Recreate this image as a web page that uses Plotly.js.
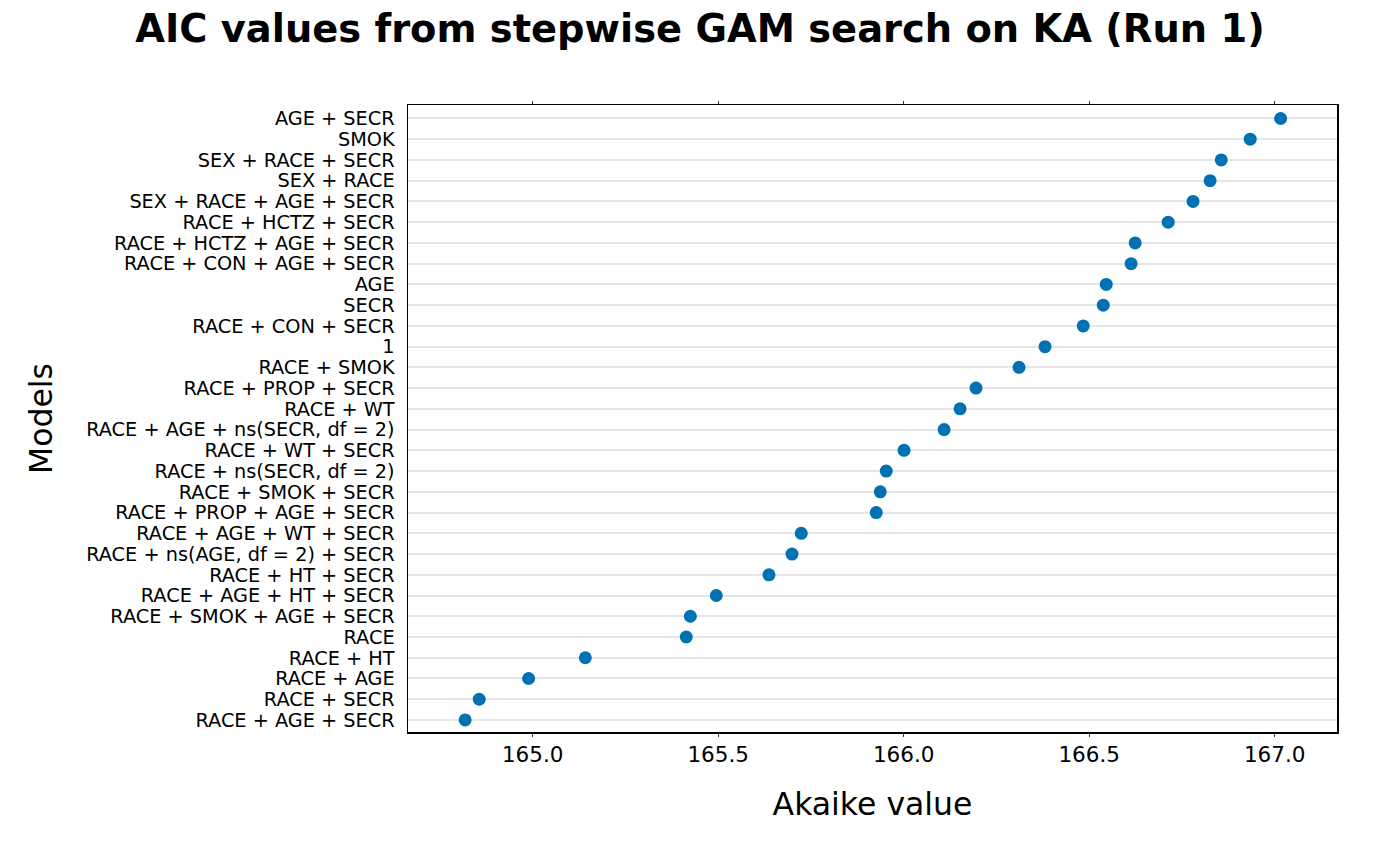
<!DOCTYPE html>
<html>
<head>
<meta charset="utf-8">
<script src="https://cdn.plot.ly/plotly-3.0.1.min.js"></script>
<style>html,body{margin:0;padding:0;background:#fff;}#chart{width:1400px;height:866px;}</style>
</head>
<body>
<div id="chart"></div>
<script>
// Models ordered bottom (lowest AIC) to top
const models = [
  "RACE + AGE + SECR",
  "RACE + SECR",
  "RACE + AGE",
  "RACE + HT",
  "RACE",
  "RACE + SMOK + AGE + SECR",
  "RACE + AGE + HT + SECR",
  "RACE + HT + SECR",
  "RACE + ns(AGE, df = 2) + SECR",
  "RACE + AGE + WT + SECR",
  "RACE + PROP + AGE + SECR",
  "RACE + SMOK + SECR",
  "RACE + ns(SECR, df = 2)",
  "RACE + WT + SECR",
  "RACE + AGE + ns(SECR, df = 2)",
  "RACE + WT",
  "RACE + PROP + SECR",
  "RACE + SMOK",
  "1",
  "RACE + CON + SECR",
  "SECR",
  "AGE",
  "RACE + CON + AGE + SECR",
  "RACE + HCTZ + AGE + SECR",
  "RACE + HCTZ + SECR",
  "SEX + RACE + AGE + SECR",
  "SEX + RACE",
  "SEX + RACE + SECR",
  "SMOK",
  "AGE + SECR"
];
const aicValues = [
  164.818, 164.856, 164.989, 165.142, 165.414,
  165.425, 165.495, 165.637, 165.699, 165.724,
  165.926, 165.937, 165.953, 166.001, 166.109,
  166.152, 166.195, 166.311, 166.381, 166.484,
  166.538, 166.546, 166.613, 166.624, 166.713,
  166.780, 166.826, 166.856, 166.934, 167.016
];
const xTickVals = [165.0, 165.5, 166.0, 166.5, 167.0];
const xTickText = ["165.0", "165.5", "166.0", "166.5", "167.0"];

const trace = {
  type: "scatter",
  mode: "markers",
  x: aicValues,
  y: models,
  marker: {color: "#0072B2", size: 13},
  hoverinfo: "x+y"
};

const layout = {
  width: 1400,
  height: 866,
  paper_bgcolor: "#ffffff",
  plot_bgcolor: "#ffffff",
  font: {family: "DejaVu Sans", color: "#000000"},
  margin: {l: 408, r: 63, t: 105, b: 134},
  showlegend: false,
  title: {
    text: "<b>AIC values from stepwise GAM search on KA (Run 1)</b>",
    font: {family: "DejaVu Sans", size: 38.4, color: "#000000"},
    x: 0.5, xanchor: "center",
    y: 0.967, yanchor: "middle"
  },
  xaxis: {
    range: [164.664, 167.168],
    tickmode: "array",
    tickvals: xTickVals,
    ticktext: xTickText,
    tickfont: {size: 21.5, color: "#000000"},
    ticks: "outside",
    ticklen: 3,
    tickcolor: "#333333",
    showgrid: false,
    zeroline: false,
    showline: true,
    linecolor: "#000000",
    linewidth: 1.5,
    mirror: "ticks",
    title: {text: "Akaike value", font: {size: 31.5, color: "#000000"}, standoff: 26}
  },
  yaxis: {
    type: "category",
    categoryorder: "array",
    categoryarray: models,
    tickmode: "array",
    tickvals: models,
    ticktext: models,
    range: [-0.58, 29.65],
    tickfont: {size: 19.3, color: "#000000"},
    ticks: "",
    ticklabelstandoff: 8,
    showgrid: true,
    gridcolor: "#e6e6e6",
    gridwidth: 2,
    zeroline: false,
    showline: true,
    linecolor: "#000000",
    linewidth: 1.5,
    mirror: true,
    title: {text: "Models", font: {size: 31.5, color: "#000000"}, standoff: 24}
  }
};

Plotly.newPlot("chart", [trace], layout, {displayModeBar: false, staticPlot: true});
</script>
</body>
</html>
